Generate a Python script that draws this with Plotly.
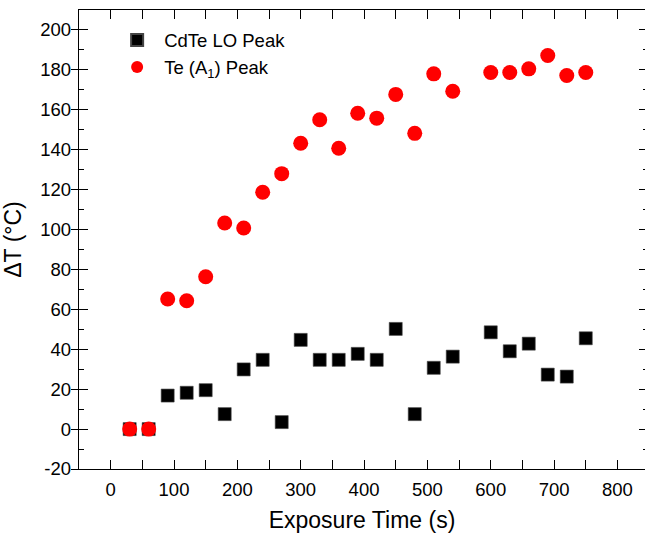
import plotly.graph_objects as go

exposure_time = [30, 60, 90, 120, 150, 180, 210, 240, 270, 300, 330, 360, 390,
                 420, 450, 480, 510, 540, 600, 630, 660, 690, 720, 750]
cdte_lo = [0, 0, 16.8, 18.2, 19.5, 7.5, 29.9, 34.7, 3.5, 44.7, 34.7, 34.7, 37.7,
           34.7, 50.2, 7.5, 30.7, 36.3, 48.5, 39, 42.8, 27.3, 26.3, 45.5]
te_a1 = [0, 0, 65.2, 64.3, 76.3, 103.3, 100.8, 118.7, 128, 143.2, 155, 140.7, 158.3,
         155.8, 167.7, 148.2, 178, 169.3, 178.7, 178.7, 180.5, 187.2, 177.2, 178.7]

x_range = [-50, 843.5]
y_range = [-20, 210]
x_ticks = [0, 100, 200, 300, 400, 500, 600, 700, 800]
y_ticks = [-20, 0, 20, 40, 60, 80, 100, 120, 140, 160, 180, 200]
y_ticktext = ["-20", "0", "20", "40", "60", "80", "100", "120", "140", "160", "180", "200"]

FONT = "Liberation Sans, Arial, sans-serif"

fig = go.Figure()
fig.add_trace(go.Scatter(
    x=exposure_time, y=cdte_lo, mode="markers", name="CdTe LO Peak",
    marker=dict(symbol="square", size=13, color="black",
                line=dict(width=0.6, color="#444")),
))
fig.add_trace(go.Scatter(
    x=exposure_time, y=te_a1, mode="markers", name="Te (A<sub>1</sub>) Peak",
    marker=dict(symbol="circle", size=15, color="#ff0000", line=dict(width=0)),
))
# invisible traces to carry the extra tick sets (outside left, inside right)
fig.add_trace(go.Scatter(x=[None], y=[None], yaxis="y2", showlegend=False,
                         hoverinfo="skip"))
fig.add_trace(go.Scatter(x=[None], y=[None], yaxis="y3", showlegend=False,
                         hoverinfo="skip"))

fig.update_layout(
    width=645, height=535,
    margin=dict(l=79, r=0, t=10, b=66),
    paper_bgcolor="white", plot_bgcolor="white",
    font=dict(family=FONT, size=18, color="black"),
    showlegend=True,
    legend=dict(x=0.055, y=0.975, xanchor="left", yanchor="top",
                bgcolor="rgba(0,0,0,0)", font=dict(size=18.5),
                itemsizing="constant", itemwidth=44, tracegroupgap=0),
    xaxis=dict(
        range=x_range, tickmode="array", tickvals=x_ticks,
        showline=True, linecolor="black", linewidth=1.4, mirror="allticks",
        ticks="inside", ticklen=9, tickwidth=1.4, tickcolor="black",
        minor=dict(ticks="inside", ticklen=4.5, dtick=50, tick0=0,
                   tickwidth=1.4, tickcolor="black"),
        showgrid=False, zeroline=False,
        tickfont=dict(size=18.5), ticklabelstandoff=4,
        title=dict(text="Exposure Time (s)", font=dict(size=23), standoff=12),
    ),
    yaxis=dict(
        range=y_range, tickmode="array", tickvals=y_ticks, ticktext=y_ticktext,
        showline=True, linecolor="black", linewidth=1.4, mirror=False,
        ticks="inside", ticklen=9, tickwidth=1.4, tickcolor="black",
        minor=dict(ticks="inside", ticklen=4.5, dtick=10, tick0=0,
                   tickwidth=1.4, tickcolor="black"),
        showgrid=False, zeroline=False,
        tickfont=dict(size=18.5), ticklabelstandoff=3,
        title=dict(text="ΔT (°C)", font=dict(size=23), standoff=12),
    ),
    yaxis2=dict(
        range=y_range, overlaying="y", side="left", tickmode="array",
        tickvals=y_ticks, ticks="outside", ticklen=7, tickwidth=1.4,
        tickcolor="black", showticklabels=False, showline=False,
        showgrid=False, zeroline=False,
    ),
    yaxis3=dict(
        range=y_range, overlaying="y", side="right", tickmode="array",
        tickvals=y_ticks, ticks="inside", ticklen=6, tickwidth=1.4,
        tickcolor="black", showticklabels=False, showline=False,
        minor=dict(ticks="inside", ticklen=2.5, dtick=10, tick0=0,
                   tickwidth=1.4, tickcolor="black"),
        showgrid=False, zeroline=False,
    ),
)

fig.write_html(
    "out.html",
    config={"displayModeBar": False},
    post_script="document.body.style.margin='0';"
                "document.documentElement.style.overflow='hidden';",
)
